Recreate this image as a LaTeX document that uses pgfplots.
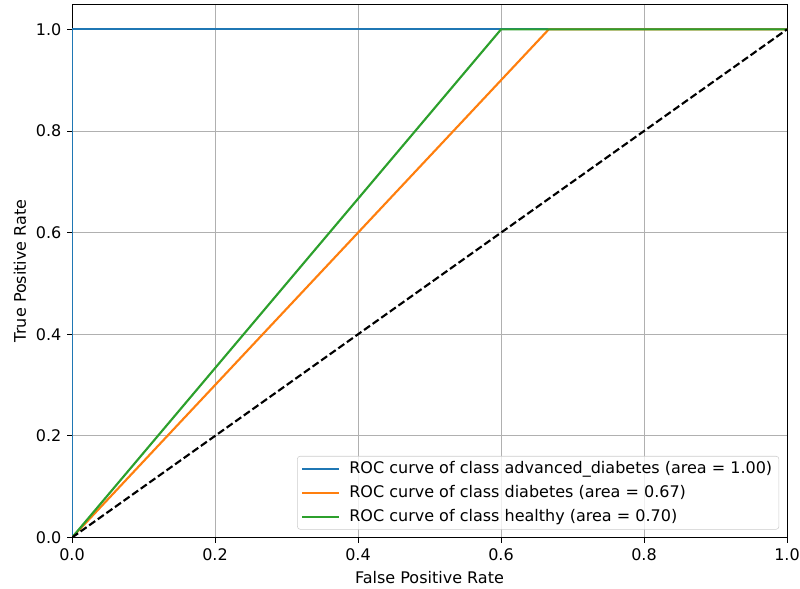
\documentclass[border=0pt]{standalone}
\usepackage{pgfplots}
\pgfplotsset{compat=1.18}
\usepackage{fontspec}
\setmainfont{DejaVu Sans}
\definecolor{c0}{HTML}{1F77B4}
\definecolor{c1}{HTML}{FF7F0E}
\definecolor{c2}{HTML}{2CA02C}
\begin{document}
\fontsize{12}{14.4}\selectfont
\begin{tikzpicture}
\begin{axis}[
  name=ax,
  scale only axis,
  width=536pt, height=400pt,
  xmin=0, xmax=1, ymin=0, ymax=1.05,
  xtick={0,0.2,0.4,0.6,0.8,1.0},
  ytick={0,0.2,0.4,0.6,0.8,1.0},
  xticklabels={0.0,0.2,0.4,0.6,0.8,1.0},
  yticklabels={0.0,0.2,0.4,0.6,0.8,1.0},
  tick align=outside, tick pos=left,
  major tick length=3.75pt,
  every tick/.style={black, line width=0.7pt},
  grid=major,
  grid style={color=black!31, line width=0.7pt},
  axis line style={line width=0.7pt},
  ticklabel style={font=\fontsize{12}{14}\selectfont},
  /pgf/number format/assume math mode=true,
  xlabel={False Positive Rate},
  ylabel={True Positive Rate},
  every axis x label/.style={at={(axis description cs:0.5,-0.075)}, anchor=center},
  every axis y label/.style={at={(axis description cs:-0.0728,0.5)}, anchor=center, rotate=90},
  label style={font=\fontsize{12}{14}\selectfont},
  legend style={at={(0.989,0.015)}, anchor=south east, draw=black!20, rounded corners=2pt, fill=white, fill opacity=0.8, text opacity=1, font=\fontsize{12}{14.4}\selectfont, row sep=3pt, column sep=5pt, inner xsep=3pt, inner ysep=2pt},
  legend cell align=left,
  legend image post style={xscale=1.6},
]
\addplot[c0, line width=1.6pt] coordinates {(0,0) (0,1) (1,1)};
\addlegendentry{ROC curve of class advanced\_diabetes (area = 1.00)}
\addplot[c1, line width=1.6pt] coordinates {(0,0) (0.6667,1) (1,1)};
\addlegendentry{ROC curve of class diabetes (area = 0.67)}
\addplot[c2, line width=1.6pt] coordinates {(0,0) (0.6,1) (1,1)};
\addlegendentry{ROC curve of class healthy (area = 0.70)}
\addplot[black, dashed, dash pattern=on 5.5pt off 2.4pt, line width=1.6pt, forget plot] coordinates {(0,0) (1,1)};
\end{axis}
\pgfresetboundingbox
\path ([xshift=-54pt,yshift=-38.2pt]ax.south west) rectangle ([xshift=9.75pt,yshift=3pt]ax.north east);
\end{tikzpicture}
\end{document}
